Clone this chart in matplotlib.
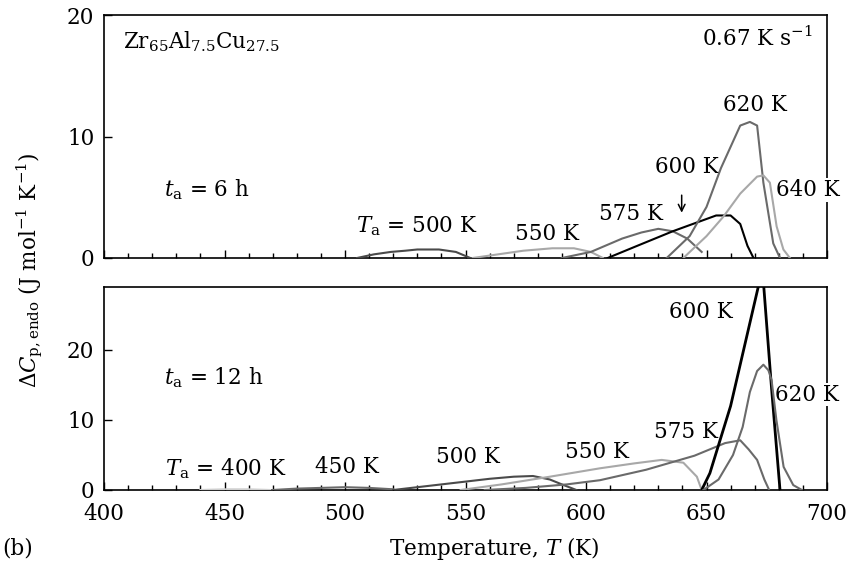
import matplotlib
matplotlib.use("Agg")
import matplotlib.pyplot as plt
from matplotlib.ticker import MultipleLocator

plt.rcParams['font.family'] = ['DejaVu Serif']
plt.rcParams['mathtext.fontset'] = 'dejavuserif'
FS = 15.5

# ---------------- data: top panel (t_a = 6 h) ----------------
top_500_T = [505, 512, 519, 525, 530, 539, 546, 552]
top_500_y = [0.0, 0.3, 0.5, 0.6, 0.7, 0.7, 0.5, 0.0]
top_550_T = [553, 560, 574, 586, 595, 602, 607]
top_550_y = [0.0, 0.2, 0.6, 0.8, 0.8, 0.5, 0.0]
top_575_T = [590, 602, 615, 623, 630, 636, 642, 648]
top_575_y = [0.0, 0.5, 1.6, 2.1, 2.4, 2.2, 1.6, 0.5]
top_600_T = [609, 620, 636, 654, 660, 664, 667, 669.5]
top_600_y = [0.0, 0.9, 2.2, 3.5, 3.5, 2.8, 1.0, 0.0]
top_620_T = [633.5, 643, 650, 656, 664, 668, 671, 673.6, 677.7, 680.5]
top_620_y = [0.0, 1.8, 4.2, 7.4, 10.9, 11.2, 10.9, 6.2, 1.2, 0.0]
top_640_T = [640.4, 650, 657, 664, 671, 673.6, 676.3, 679.1, 681.9, 684.6]
top_640_y = [0.0, 1.8, 3.4, 5.3, 6.7, 6.8, 6.2, 2.6, 0.7, 0.0]

# ---------------- data: bottom panel (t_a = 12 h) ----------------
bot_400_T = [440, 450, 460, 469]
bot_400_y = [0.0, 0.1, 0.1, 0.0]
bot_450_T = [470, 480, 490, 500, 510, 520]
bot_450_y = [0.0, 0.2, 0.3, 0.4, 0.3, 0.1]
bot_500_T = [520, 530, 540, 550, 560, 570, 578, 585, 590, 596]
bot_500_y = [0.0, 0.4, 0.8, 1.2, 1.6, 1.9, 2.0, 1.5, 0.8, 0.0]
bot_550_T = [548, 565, 585, 605.8, 620, 631.4, 640.4, 646, 648]
bot_550_y = [0.0, 0.8, 1.9, 3.1, 3.8, 4.3, 3.9, 1.9, 0.0]
bot_575_T = [558, 575, 592, 605.8, 625, 645, 657.7, 664, 667.5, 671, 674, 676]
bot_575_y = [0.0, 0.3, 0.8, 1.4, 2.9, 4.9, 6.7, 7.1, 5.8, 4.3, 1.5, 0.0]
bot_600_T = [648, 651.4, 660, 672, 673.6, 677, 680.5]
bot_600_y = [0.0, 2.4, 12.0, 29.8, 29.8, 14.5, 0.0]
bot_620_T = [648.7, 655, 661, 665, 668, 671, 673.6, 675.7, 677, 679, 682, 686, 689.6]
bot_620_y = [0.0, 1.5, 5.0, 9.0, 14.0, 17.0, 17.9, 17.1, 15.7, 10.0, 3.3, 0.7, 0.0]

fig = plt.figure(figsize=(8.55, 5.72), dpi=100)
L, R = 104 / 855, 827 / 855
ax1 = fig.add_axes([L, 1 - 258 / 572, R - L, (258 - 15) / 572])
ax2 = fig.add_axes([L, 1 - 490 / 572, R - L, (490 - 287) / 572])

for ax in (ax1, ax2):
    ax.set_xlim(400, 700)
    ax.xaxis.set_major_locator(MultipleLocator(50))
    ax.xaxis.set_minor_locator(MultipleLocator(10))
    ax.yaxis.set_major_locator(MultipleLocator(10))
    ax.tick_params(axis='both', which='major', direction='in', length=6, width=1.0,
                   labelsize=FS, pad=7, top=False, right=False)
    ax.tick_params(axis='x', which='major', pad=9)
    ax.tick_params(axis='x', which='minor', direction='in', length=3.5, width=1.0,
                   top=False)
    for s in ax.spines.values():
        s.set_linewidth(1.2)
        s.set_zorder(3)

ax1.set_ylim(0, 20)
ax2.set_ylim(0, 29)
ax1.tick_params(axis='x', labelbottom=False)

c_dark = '#4a4a4a'
c_mid = '#6a6a6a'
c_light = '#a8a8a8'
lw = 1.5
Z = 4

ax1.plot(top_500_T, top_500_y, color=c_dark, lw=lw, zorder=Z)
ax1.plot(top_550_T, top_550_y, color=c_light, lw=lw, zorder=Z)
ax1.plot(top_575_T, top_575_y, color=c_mid, lw=lw, zorder=Z)
ax1.plot(top_600_T, top_600_y, color='black', lw=lw, zorder=Z)
ax1.plot(top_620_T, top_620_y, color=c_mid, lw=lw, zorder=Z)
ax1.plot(top_640_T, top_640_y, color=c_light, lw=lw, zorder=Z)

ax2.plot(bot_400_T, bot_400_y, color='#cfcfcf', lw=lw, zorder=Z)
ax2.plot(bot_450_T, bot_450_y, color=c_mid, lw=lw, zorder=Z)
ax2.plot(bot_500_T, bot_500_y, color=c_dark, lw=lw, zorder=Z)
ax2.plot(bot_550_T, bot_550_y, color=c_light, lw=lw, zorder=Z)
ax2.plot(bot_575_T, bot_575_y, color=c_mid, lw=lw, zorder=Z)
ax2.plot(bot_600_T, bot_600_y, color='black', lw=2.0, zorder=Z)
ax2.plot(bot_620_T, bot_620_y, color=c_mid, lw=lw, zorder=Z)

# annotations top
ax1.text(407.9, 17.8, r'Zr$_{65}$Al$_{7.5}$Cu$_{27.5}$', fontsize=FS, va='center', ha='left')
ax1.text(694, 18.0, r'0.67 K s$^{-1}$', fontsize=FS, va='center', ha='right')
ax1.text(425, 5.6, r'$t_{\mathrm{a}}$ = 6 h', fontsize=FS, va='center', ha='left')
ax1.text(530, 2.6, r'$T_{\mathrm{a}}$ = 500 K', fontsize=FS, va='center', ha='center')
ax1.text(583.8, 2.0, '550 K', fontsize=FS, va='center', ha='center')
ax1.text(618.7, 3.6, '575 K', fontsize=FS, va='center', ha='center')
ax1.text(641.9, 7.5, '600 K', fontsize=FS, va='center', ha='center')
ax1.text(670, 12.6, '620 K', fontsize=FS, va='center', ha='center')
ax1.text(692, 5.6, '640 K', fontsize=FS, va='center', ha='center', zorder=3.5, clip_on=False,
         bbox=dict(facecolor='white', edgecolor='none', pad=0.5))
ax1.annotate('', xy=(639.7, 3.5), xytext=(639.7, 5.4),
             arrowprops=dict(arrowstyle='->', color='black', lw=1.1, mutation_scale=12))

# annotations bottom
ax2.text(425, 16, r'$t_{\mathrm{a}}$ = 12 h', fontsize=FS, va='center', ha='left')
ax2.text(425.3, 3.1, r'$T_{\mathrm{a}}$ = 400 K', fontsize=FS, va='center', ha='left')
ax2.text(501, 3.3, '450 K', fontsize=FS, va='center', ha='center')
ax2.text(551, 4.7, '500 K', fontsize=FS, va='center', ha='center')
ax2.text(604.6, 5.4, '550 K', fontsize=FS, va='center', ha='center')
ax2.text(641.5, 8.3, '575 K', fontsize=FS, va='center', ha='center')
ax2.text(647.7, 25.4, '600 K', fontsize=FS, va='center', ha='center')
ax2.text(678.4, 13.6, '620 K', fontsize=FS, va='center', ha='left', zorder=3.5, clip_on=False,
         bbox=dict(facecolor='white', edgecolor='none', pad=0.5))

fig.text(30 / 855, 1 - 270 / 572, r'$\Delta C_{\mathrm{p,endo}}$ (J mol$^{-1}$ K$^{-1}$)',
         rotation=90, fontsize=FS, ha='center', va='center')
fig.text(494 / 855, 1 - 548 / 572, r'Temperature, $T$ (K)', fontsize=FS, ha='center', va='center')
fig.text(2 / 855, 1 - 548 / 572, '(b)', fontsize=FS, ha='left', va='center')

fig.savefig('out.png', dpi=100)
